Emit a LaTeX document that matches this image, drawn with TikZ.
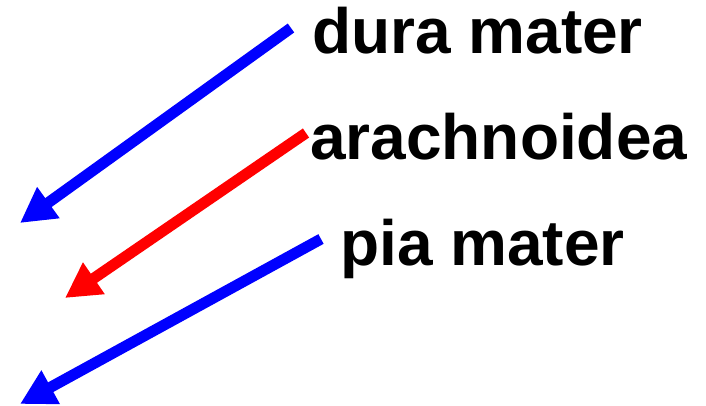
\documentclass[tikz,border=0pt]{standalone}
\usepackage{fontspec}
\setmainfont{Liberation Sans}
\usetikzlibrary{arrows.meta}
\begin{document}
\begin{tikzpicture}[x=1pt,y=-1pt,
  lbl/.style={anchor=base west,inner sep=0pt,font=\fontsize{64}{64}\selectfont\bfseries},
  pointer/.style={line width=11pt,-{Triangle[length=35pt,width=36pt]}}]
\useasboundingbox (0,0) rectangle (706,405);
\node[lbl] (dura) at (312,53) {dura mater};
\node[lbl] (arach) at (310,159) {arachnoidea};
\node[lbl] (pia) at (340,265) {pia mater};
\coordinate (s1) at (291,28);
\coordinate (t1) at (20,223);
\coordinate (s2) at (306,133);
\coordinate (t2) at (65,298);
\coordinate (s3) at (321,239);
\coordinate (t3) at (20,404);
\draw[pointer,blue] (s1) -- (t1);
\draw[pointer,red] (s2) -- (t2);
\draw[pointer,blue] (s3) -- (t3);
\end{tikzpicture}
\end{document}
